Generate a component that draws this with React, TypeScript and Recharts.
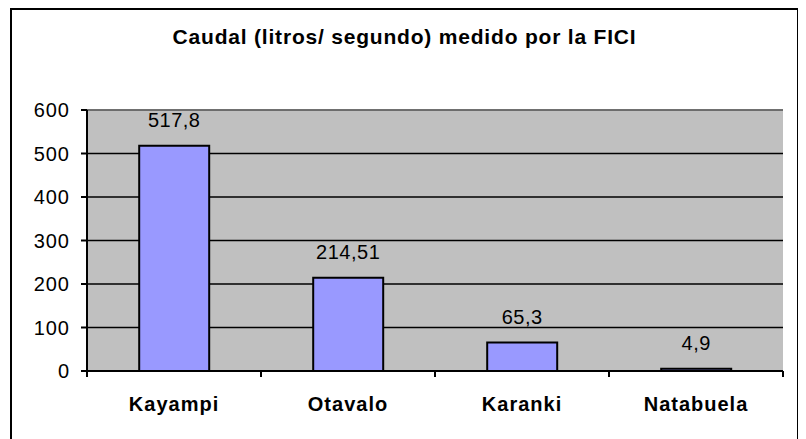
import React from "react";
import {
  BarChart,
  Bar,
  XAxis,
  YAxis,
  CartesianGrid,
  ReferenceLine,
  LabelList,
} from "recharts";

const categories = ["Kayampi", "Otavalo", "Karanki", "Natabuela"];
const caudal = [517.8, 214.51, 65.3, 4.9];
const yTicks = [0, 100, 200, 300, 400, 500, 600];

const chartTitle = "Caudal (litros/ segundo) medido por la FICI";

const data = categories.map((name, i) => ({ name, caudal: caudal[i] }));

const CHART_W = 785;
const CHART_H = 436;
const MARGIN = { top: 100, right: 14, bottom: 45, left: 0 };
const Y_AXIS_W = 75;
const PLOT_W = CHART_W - MARGIN.right - MARGIN.left - Y_AXIS_W;
const BAND = PLOT_W / categories.length;

const FONT = "'Liberation Sans', Arial, sans-serif";

const CategoryTick = (props: any) => {
  const { x, y, payload, index } = props;
  const last = index === categories.length - 1;
  return (
    <g>
      <line x1={x - BAND / 2} y1={y} x2={x - BAND / 2} y2={y + 6} stroke="#000" strokeWidth={2} />
      {last && (
        <line x1={x + BAND / 2} y1={y} x2={x + BAND / 2} y2={y + 6} stroke="#000" strokeWidth={2} />
      )}
      <text
        x={x}
        y={y + 40}
        textAnchor="middle"
        fontFamily={FONT}
        fontSize={20}
        fontWeight="bold"
        letterSpacing={1}
        fill="#000"
      >
        {payload.value}
      </text>
    </g>
  );
};

const formatValue = (v: any) => String(v).replace(".", ",");

export default function App() {
  return (
    <div
      style={{
        position: "relative",
        marginLeft: 2,
        width: 789,
        height: 440,
        border: "2px solid #000",
        boxSizing: "border-box",
        fontFamily: FONT,
        background: "#fff",
      }}
    >
      <div
        style={{
          position: "absolute",
          left: 0,
          right: 0,
          top: 17,
          textAlign: "center",
          fontSize: 21,
          lineHeight: "20px",
          fontWeight: "bold",
          letterSpacing: 0.8,
          color: "#000",
        }}
      >
        {chartTitle}
      </div>
      <BarChart
        width={CHART_W}
        height={CHART_H}
        data={data}
        margin={MARGIN}
        barCategoryGap="30%"
      >
        <CartesianGrid
          vertical={false}
          fill="#C0C0C0"
          fillOpacity={1}
          stroke="#000"
          strokeWidth={1.5}
        />
        <ReferenceLine y={600} stroke="#808080" strokeWidth={1.5} />
        <XAxis
          dataKey="name"
          tick={<CategoryTick />}
          tickLine={false}
          tickSize={0}
          tickMargin={0}
          height={30}
          interval={0}
          axisLine={{ stroke: "#000", strokeWidth: 2 }}
        />
        <YAxis
          domain={[0, 600]}
          ticks={yTicks}
          width={Y_AXIS_W}
          tickSize={6}
          tickMargin={11}
          interval={0}
          axisLine={{ stroke: "#000", strokeWidth: 2 }}
          tickLine={{ stroke: "#000", strokeWidth: 2 }}
          tick={{ fill: "#000", fontSize: 20, fontFamily: FONT, letterSpacing: 1 }}
        />
        <YAxis
          yAxisId="edge"
          orientation="right"
          width={0}
          tick={false}
          tickLine={false}
          axisLine={{ stroke: "#808080", strokeWidth: 1.5 }}
        />
        <Bar
          dataKey="caudal"
          fill="#9999FF"
          stroke="#000"
          strokeWidth={2}
          isAnimationActive={false}
        >
          <LabelList
            dataKey="caudal"
            position="top"
            offset={19}
            formatter={formatValue}
            fill="#000"
            fontSize={20}
            fontFamily={FONT}
            letterSpacing={0.5}
          />
        </Bar>
      </BarChart>
    </div>
  );
}
